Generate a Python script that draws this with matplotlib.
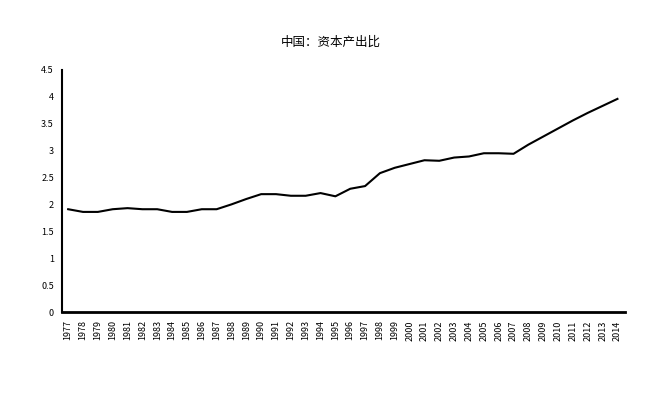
import matplotlib
matplotlib.use('Agg')
import matplotlib.pyplot as plt

plt.rcParams['font.family'] = ['Noto Sans CJK SC', 'DejaVu Sans']

years = list(range(1977, 2015))
ratio = [1.91, 1.86, 1.86, 1.91, 1.93, 1.91, 1.91, 1.86, 1.86, 1.91,
         1.91, 2.00, 2.10, 2.19, 2.19, 2.16, 2.16, 2.21, 2.15, 2.29,
         2.34, 2.58, 2.68, 2.75, 2.82, 2.81, 2.87, 2.89, 2.95, 2.95,
         2.94, 3.11, 3.26, 3.41, 3.56, 3.70, 3.83, 3.96]
yticks = [0, 0.5, 1, 1.5, 2, 2.5, 3, 3.5, 4, 4.5]
ylabels = ['0', '0.5', '1', '1.5', '2', '2.5', '3', '3.5', '4', '4.5']

fig = plt.figure(figsize=(6.55, 3.99), dpi=100)
ax = fig.add_axes([0.095, 0.218, 0.859, 0.607])
ax.plot(years, ratio, color='black', linewidth=1.5)

ax.set_xlim(1976.6, 2014.5)
ax.set_ylim(0, 4.5)
ax.set_xticks(years)
ax.set_xticklabels([str(y) for y in years], rotation=90, fontsize=6.5)
ax.set_yticks(yticks)
ax.set_yticklabels(ylabels, fontsize=6.5)
ax.tick_params(length=0, pad=6)

for s in ['top', 'right']:
    ax.spines[s].set_visible(False)
ax.spines['left'].set_linewidth(1.5)
ax.spines['bottom'].set_linewidth(2)

fig.text(0.505, 0.895, '中国：资本产出比', ha='center', va='center', fontsize=9)

plt.savefig('out.png', dpi=100)
